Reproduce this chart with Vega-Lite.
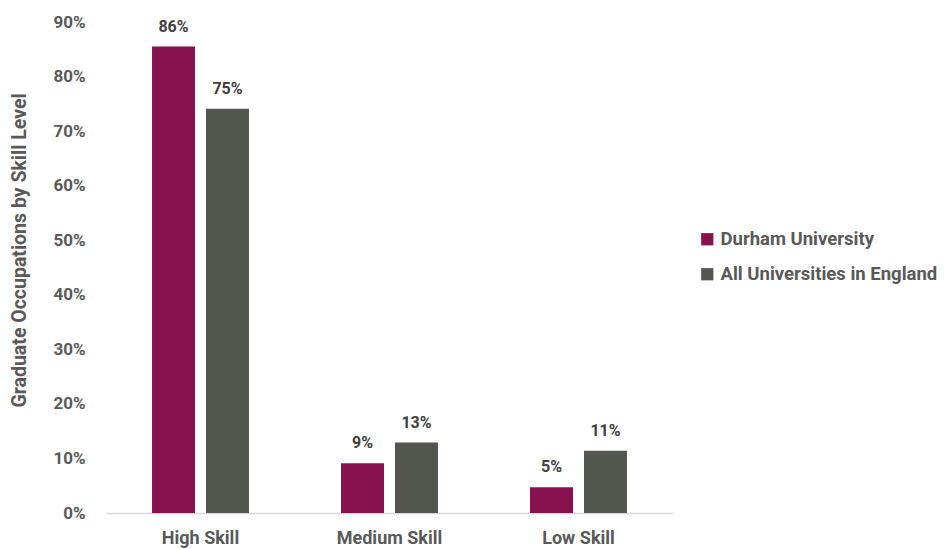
{
  "$schema": "https://vega.github.io/schema/vega-lite/v6.json",
  "width": 567,
  "height": 491,
  "autosize": {"type": "none"},
  "padding": {"left": 106, "top": 22, "right": 275, "bottom": 36},
  "background": "white",
  "config": {
    "view": {"stroke": null},
    "font": "Roboto",
    "axis": {"labelFont": "Roboto", "titleFont": "Roboto"},
    "legend": {"labelFont": "Roboto"}
  },
  "data": {
    "values": [
      {"skill": "High Skill", "group": "Durham University", "value": 0.855, "label": "86%"},
      {"skill": "High Skill", "group": "All Universities in England", "value": 0.741, "label": "75%"},
      {"skill": "Medium Skill", "group": "Durham University", "value": 0.091, "label": "9%"},
      {"skill": "Medium Skill", "group": "All Universities in England", "value": 0.129, "label": "13%"},
      {"skill": "Low Skill", "group": "Durham University", "value": 0.047, "label": "5%"},
      {"skill": "Low Skill", "group": "All Universities in England", "value": 0.114, "label": "11%"}
    ]
  },
  "encoding": {
    "x": {
      "field": "skill",
      "type": "nominal",
      "sort": ["High Skill", "Medium Skill", "Low Skill"],
      "scale": {"paddingInner": 0.487, "paddingOuter": 0.2435},
      "axis": {
        "title": null,
        "labelAngle": 0,
        "labelFontSize": 18,
        "labelFontWeight": "bold",
        "labelColor": "#595959",
        "labelPadding": 16,
        "ticks": false,
        "domainColor": "#d9d9d9",
        "domainWidth": 1.5
      }
    },
    "xOffset": {
      "field": "group",
      "type": "nominal",
      "sort": ["Durham University", "All Universities in England"],
      "scale": {"paddingInner": 0.204, "paddingOuter": 0}
    },
    "y": {
      "field": "value",
      "type": "quantitative",
      "scale": {"domain": [0, 0.9]},
      "axis": {
        "title": "Graduate Occupations by Skill Level",
        "format": ".0%",
        "values": [0, 0.1, 0.2, 0.3, 0.4, 0.5, 0.6, 0.7, 0.8, 0.9],
        "grid": false,
        "domain": false,
        "ticks": false,
        "labelPadding": 21,
        "labelFontSize": 17,
        "labelFontWeight": "bold",
        "labelColor": "#595959",
        "titleFontSize": 19.5,
        "titleFontWeight": "bold",
        "titleColor": "#595959",
        "titleX": -87,
        "titleY": 228,
        "titleAngle": -90,
        "titleAlign": "center",
        "titleBaseline": "middle"
      }
    }
  },
  "layer": [
    {
      "mark": {"type": "bar"},
      "encoding": {
        "color": {
          "field": "group",
          "type": "nominal",
          "sort": ["Durham University", "All Universities in England"],
          "scale": {
            "domain": ["Durham University", "All Universities in England"],
            "range": ["#88114F", "#53554F"]
          },
          "legend": {
            "title": null,
            "orient": "none",
            "legendX": 592,
            "legendY": 208,
            "padding": 0,
            "symbolType": "square",
            "symbolSize": 150,
            "symbolStrokeWidth": 0,
            "labelFontSize": 18.5,
            "labelFontWeight": "bold",
            "labelColor": "#595959",
            "labelOffset": 4,
            "labelLimit": 400,
            "rowPadding": 16
          }
        }
      }
    },
    {
      "mark": {
        "type": "text",
        "baseline": "bottom",
        "dy": -12,
        "fontSize": 16,
        "fontWeight": "bold",
        "color": "#404040"
      },
      "encoding": {
        "text": {"field": "label", "type": "nominal"}
      }
    }
  ]
}
